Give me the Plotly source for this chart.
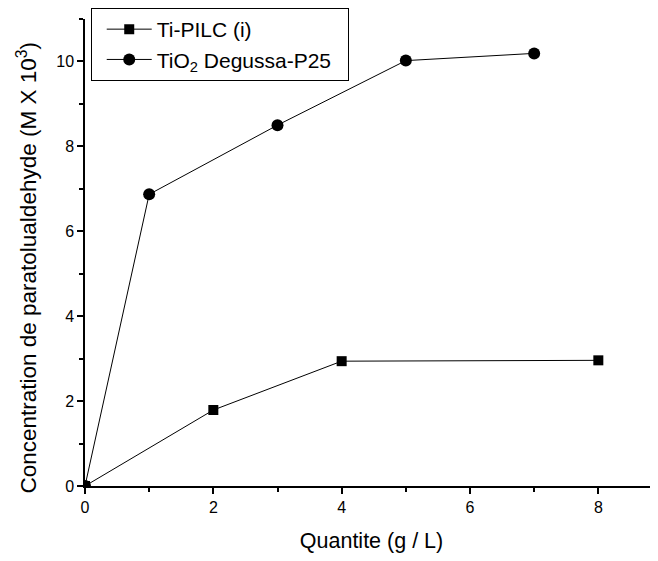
import plotly.graph_objects as go

pilc_x = [0, 2, 4, 8]
pilc_y = [0, 1.79, 2.94, 2.96]
tio2_x = [0, 1, 3, 5, 7]
tio2_y = [0, 6.87, 8.5, 10.02, 10.19]

fig = go.Figure()
fig.add_trace(go.Scatter(x=pilc_x, y=pilc_y, mode="lines+markers", name="Ti-PILC (i)",
                         line=dict(color="black", width=1),
                         marker=dict(symbol="square", size=10, color="black")))
fig.add_trace(go.Scatter(x=tio2_x, y=tio2_y, mode="lines+markers", name="TiO<sub>2</sub> Degussa-P25&nbsp;&nbsp;",
                         line=dict(color="black", width=1),
                         marker=dict(symbol="circle", size=12, color="black")))

fnt = dict(family="Liberation Sans, Arial, sans-serif", color="black")
fig.update_layout(
    width=650, height=553,
    margin=dict(l=77, r=0, t=7, b=75),
    plot_bgcolor="white", paper_bgcolor="white",
    font=dict(size=16, **fnt),
    showlegend=True,
    legend=dict(x=0.01, y=1.024, xanchor="left", yanchor="top",
                bordercolor="black", borderwidth=1, bgcolor="white",
                font=dict(size=21, **fnt), tracegroupgap=0, itemwidth=45, indentation=10),
    xaxis=dict(range=[0, 8.93], tickvals=[0, 2, 4, 6, 8], showgrid=False, zeroline=False,
               automargin=False,
               showline=True, linecolor="black", linewidth=1.5,
               ticks="outside", ticklen=6, tickwidth=1.5, tickcolor="black",
               minor=dict(ticks="outside", ticklen=4, tickwidth=1.5, tickcolor="black", dtick=1, showgrid=False),
               title=dict(text="Quantite (g / L)", font=dict(size=21.5, **fnt), standoff=18),
               tickfont=dict(size=16, **fnt)),
    yaxis=dict(range=[0, 11], tickvals=[0, 2, 4, 6, 8, 10], showgrid=False, zeroline=False,
               automargin=False,
               showline=True, linecolor="black", linewidth=1.5,
               ticks="outside", ticklen=6, tickwidth=1.5, tickcolor="black",
               minor=dict(ticks="outside", ticklen=4, tickwidth=1.5, tickcolor="black", dtick=1, showgrid=False),
               tickfont=dict(size=16, **fnt)),
    annotations=[dict(text="Concentration de paratolualdehyde (M X 10<sup>3</sup>)",
                      xref="paper", yref="paper", x=-0.101, y=0.468,
                      xanchor="center", yanchor="middle", textangle=-90, showarrow=False,
                      font=dict(size=22.5, **fnt))],
)

fig.write_html("out.html")
